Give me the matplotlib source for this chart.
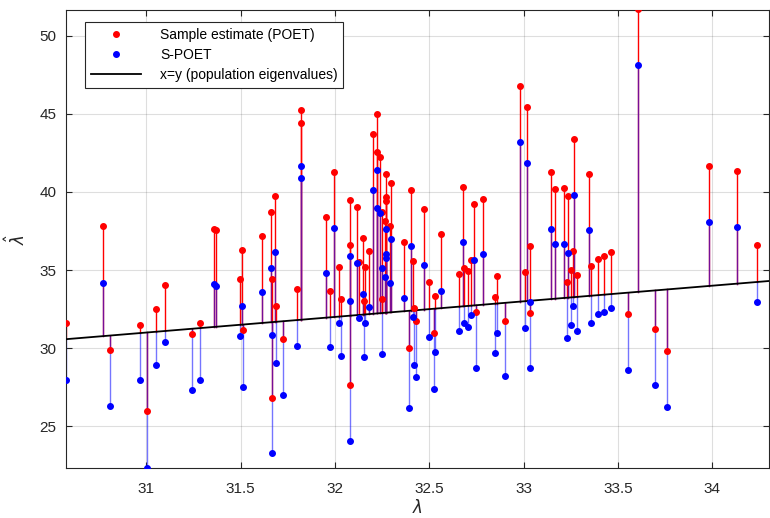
import matplotlib
matplotlib.use("Agg")
import matplotlib.pyplot as plt
import numpy as np

plt.rcParams['font.family'] = ['Liberation Sans', 'DejaVu Sans']
plt.rcParams['mathtext.fontset'] = 'dejavusans'

# population eigenvalues (x positions)
lam = [30.576, 30.769, 30.807, 30.968, 31.005, 31.053, 31.098, 31.242, 31.285, 31.361,
       31.368, 31.497, 31.509, 31.513, 31.612, 31.663, 31.664, 31.665, 31.684, 31.685,
       31.724, 31.801, 31.817, 31.819, 31.952, 31.973, 31.996, 32.021, 32.029, 32.077,
       32.078, 32.079, 32.116, 32.128, 32.150, 32.151, 32.160, 32.178, 32.199, 32.220,
       32.225, 32.236, 32.247, 32.250, 32.268, 32.269, 32.270, 32.267, 32.293, 32.298,
       32.363, 32.390, 32.404, 32.415, 32.420, 32.427, 32.469, 32.496, 32.526, 32.532,
       32.560, 32.659, 32.680, 32.685, 32.703, 32.721, 32.738, 32.749, 32.785, 32.846,
       32.859, 32.903, 32.981, 33.007, 33.020, 33.032, 33.033, 33.147, 33.164, 33.211,
       33.232, 33.233, 33.248, 33.260, 33.269, 33.283, 33.347, 33.359, 33.393, 33.427,
       33.462, 33.554, 33.607, 33.697, 33.762, 33.980, 34.130, 34.236]

# sample estimate (POET)
poet = [31.60, 37.80, 29.90, 31.50, 25.96, 32.50, 34.04, 30.90, 31.60, 37.60,
        37.56, 34.40, 36.30, 31.15, 37.20, 38.72, 34.44, 26.84, 39.77, 32.67,
        30.60, 33.78, 45.24, 44.44, 38.40, 33.65, 41.26, 35.21, 33.12, 36.58,
        39.47, 27.63, 39.02, 35.53, 37.07, 33.03, 35.21, 36.22, 43.74, 45.00,
        42.54, 42.24, 38.72, 33.16, 41.15, 39.65, 39.45, 38.14, 37.84, 40.58,
        36.78, 30.00, 40.11, 35.58, 32.58, 31.75, 38.91, 34.25, 30.96, 33.35,
        37.33, 34.72, 40.34, 35.15, 34.95, 35.64, 39.25, 32.33, 39.55, 33.29,
        34.60, 31.75, 46.81, 34.87, 45.47, 36.56, 32.26, 41.26, 40.17, 40.24,
        34.21, 39.72, 35.00, 36.24, 43.38, 34.66, 41.15, 35.28, 35.72, 35.92,
        36.13, 32.20, 51.69, 31.20, 29.79, 41.67, 41.33, 36.60]

# shrunk estimate (S-POET)
spoet = [27.95, 34.20, 26.30, 27.95, 22.30, 28.90, 30.40, 27.30, 27.95, 34.10,
         33.97, 30.80, 32.70, 27.50, 33.60, 35.11, 30.83, 23.29, 36.17, 29.06,
         26.99, 30.17, 41.65, 40.88, 34.83, 30.09, 37.67, 31.60, 29.51, 33.03,
         35.90, 24.06, 35.43, 31.90, 33.46, 29.42, 31.60, 32.65, 40.11, 41.41,
         38.95, 38.63, 35.13, 29.60, 37.61, 36.00, 35.80, 34.55, 34.19, 36.97,
         33.19, 26.20, 36.54, 31.99, 28.95, 28.16, 35.30, 30.70, 27.39, 29.76,
         33.67, 31.13, 36.81, 31.58, 31.33, 32.10, 35.62, 28.72, 36.00, 29.66,
         31.00, 28.22, 43.19, 31.30, 41.86, 32.93, 28.72, 37.63, 36.65, 36.65,
         30.62, 36.09, 31.47, 32.67, 39.79, 31.09, 37.58, 31.62, 32.16, 32.33,
         32.56, 28.57, 48.12, 27.63, 26.22, 38.08, 37.74, 32.97]

x_ticks = [31, 31.5, 32, 32.5, 33, 33.5, 34]
x_labels = ['31', '31.5', '32', '32.5', '33', '33.5', '34']
y_ticks = [25, 30, 35, 40, 45, 50]
xlims = (30.574, 34.30)
ylims = (22.31, 51.66)

lam = np.array(lam)
poet = np.array(poet)
spoet = np.array(spoet)

fig = plt.figure(figsize=(7.7, 5.18), dpi=100)
ax = fig.add_axes([0.0857, 0.096, 0.913, 0.885])

# stems from the x=y line to each estimate
for x, r, b in zip(lam, poet, spoet):
    ax.plot([x, x], [x, r], color='red', lw=1.0, zorder=2)
    ax.plot([x, x], [x, b], color=(0.1, 0.1, 1.0), lw=1.0, alpha=0.6, zorder=2)

ax.plot(lam, poet, 'o', color='red', ms=4, mec='red', zorder=4,
        label='Sample estimate (POET)')
ax.plot(lam, spoet, 'o', color='blue', ms=4, mec='blue', zorder=4,
        label='S-POET')
ax.plot(xlims, xlims, color='black', lw=1.3, zorder=3,
        label='x=y (population eigenvalues)')

ax.set_xlim(xlims)
ax.set_ylim(ylims)
ax.set_xticks(x_ticks)
ax.set_xticklabels(x_labels)
ax.set_yticks(y_ticks)

dark = (0.15, 0.15, 0.15)
ax.grid(True, color=(0.15, 0.15, 0.15), alpha=0.15, lw=0.8)
ax.set_axisbelow(True)
ax.tick_params(direction='in', length=4, width=0.8, colors=dark,
               labelsize=11, top=True, right=True)
ax.tick_params(axis='x', pad=10)
ax.tick_params(axis='y', pad=7)
for s in ax.spines.values():
    s.set_color(dark)
    s.set_linewidth(0.8)

ax.set_xlabel(r'$\lambda$', fontsize=12, color=dark, labelpad=1)
ax.set_ylabel(r'$\hat{\lambda}$', fontsize=12, color=dark, labelpad=8)

leg = ax.legend(loc='upper left', bbox_to_anchor=(0.027, 0.973), fontsize=10,
                fancybox=False, framealpha=1, edgecolor=dark,
                handlelength=3.6, borderpad=0.4, labelspacing=0.45,
                handletextpad=1.4, borderaxespad=0)
leg.get_frame().set_linewidth(0.8)

fig.savefig('out.png', dpi=100)
